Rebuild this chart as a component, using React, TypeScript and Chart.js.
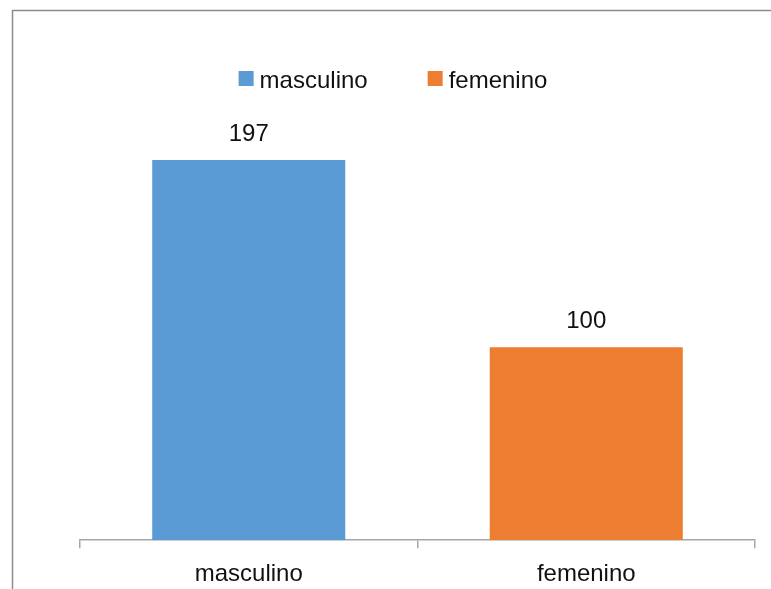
import React, { useEffect, useRef } from "react";
import { Chart, registerables } from "chart.js";

Chart.register(...registerables);

const categories = ["masculino", "femenino"];
const values = [197, 100];
const colors = ["#5b9bd5", "#ed7d31"];
const yMax = 227;

const FONT = "'Liberation Sans', Arial, sans-serif";

const framePlugin = {
  id: "frame",
  beforeDraw(chart: any) {
    const ctx = chart.ctx;
    ctx.save();
    ctx.fillStyle = "#ffffff";
    ctx.fillRect(0, 0, chart.width, chart.height);
    ctx.strokeStyle = "#8c8c8c";
    ctx.lineWidth = 1.5;
    ctx.beginPath();
    ctx.moveTo(12.5, chart.height + 5);
    ctx.lineTo(12.5, 10.5);
    ctx.lineTo(chart.width + 5, 10.5);
    ctx.stroke();
    ctx.restore();
  },
};

const legendPlugin = {
  id: "customLegend",
  afterDraw(chart: any) {
    const ctx = chart.ctx;
    ctx.save();
    ctx.font = `24px ${FONT}`;
    const box = 15;
    const gap = 6;
    const itemGap = 60;
    const widths = categories.map((c) => ctx.measureText(c).width);
    const total =
      widths.reduce((s, w) => s + box + gap + w, 0) + itemGap * (categories.length - 1);
    let x = 393 - total / 2;
    const boxTop = 71;
    const baseline = 88;
    categories.forEach((c, i) => {
      ctx.fillStyle = colors[i];
      ctx.fillRect(x, boxTop, box, box);
      ctx.fillStyle = "#111111";
      ctx.textAlign = "left";
      ctx.textBaseline = "alphabetic";
      ctx.fillText(c, x + box + gap, baseline);
      x += box + gap + widths[i] + itemGap;
    });
    ctx.restore();
  },
};

const valueLabelPlugin = {
  id: "valueLabels",
  afterDatasetsDraw(chart: any) {
    const ctx = chart.ctx;
    const meta = chart.getDatasetMeta(0);
    ctx.save();
    ctx.font = `24px ${FONT}`;
    ctx.fillStyle = "#111111";
    ctx.textAlign = "center";
    ctx.textBaseline = "alphabetic";
    meta.data.forEach((bar: any, i: number) => {
      ctx.fillText(String(values[i]), bar.x, bar.y - 19);
    });
    ctx.restore();
  },
};

export default function App() {
  const ref = useRef<HTMLCanvasElement | null>(null);
  useEffect(() => {
    if (!ref.current) return;
    const chart = new Chart(ref.current, {
      type: "bar",
      data: {
        labels: categories,
        datasets: [
          {
            data: values,
            backgroundColor: colors,
            borderWidth: 0,
            barPercentage: 1,
            categoryPercentage: 0.572,
          },
        ],
      },
      options: {
        responsive: false,
        animation: false,
        layout: { padding: { top: 102, left: 80, right: 16, bottom: -12 } },
        plugins: {
          tooltip: { enabled: false },
          legend: { display: false },
        },
        scales: {
          x: {
            offset: true,
            grid: {
              display: true,
              offset: true,
              drawOnChartArea: false,
              drawTicks: true,
              tickLength: 8,
              color: "#a6a6a6",
              lineWidth: 1.5,
            },
            border: { display: true, color: "#a6a6a6", width: 1.5 },
            ticks: {
              color: "#111111",
              font: { family: FONT, size: 24 },
              padding: 12,
            },
          },
          y: {
            display: false,
            min: 0,
            max: yMax,
          },
        },
      },
      plugins: [framePlugin, valueLabelPlugin, legendPlugin],
    });
    return () => chart.destroy();
  }, []);
  return (
    <canvas
      ref={ref}
      width={771}
      height={589}
      style={{ position: "fixed", left: 0, top: 0, width: 771, height: 589 }}
    />
  );
}
